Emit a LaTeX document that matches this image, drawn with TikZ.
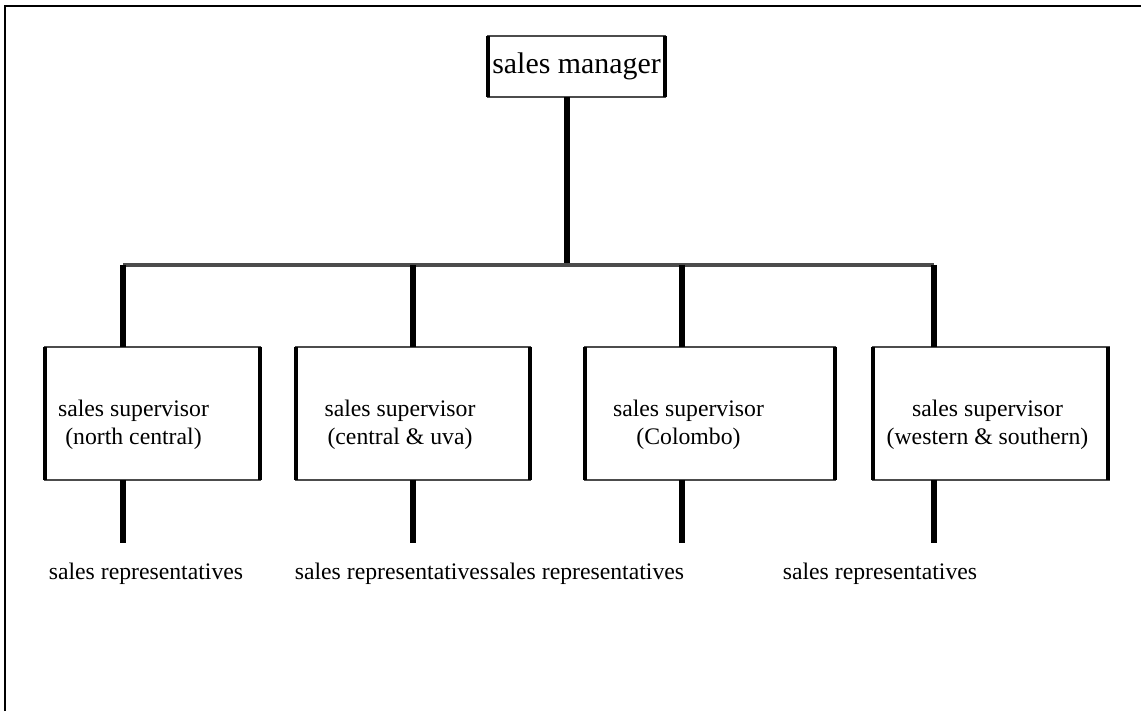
\documentclass[tikz,border=0pt]{standalone}
\usepackage{fontspec}
\setmainfont{Liberation Serif}
\tikzset{
    unitbox/.style={draw=black!70, line width=1.7pt, inner sep=0pt, outer sep=0pt},
    boxside/.style={line width=2.8pt, black},
    link/.style={line width=2.9pt, black},
    rail/.style={line width=2.2pt, black!70},
    smalltext/.style={font=\fontsize{13.5}{16}\selectfont, align=center},
}
\begin{document}
\begin{tikzpicture}
\useasboundingbox (0,0) rectangle (22.82,14.22);
\draw[line width=0.9pt] (0.1,0) -- (0.1,14.1) -- (22.82,14.1);

\node[unitbox, minimum width=3.54cm, minimum height=1.22cm, font=\fontsize{17}{20}\selectfont] (mgr) at (11.53,12.89) {sales manager};

\node[unitbox, minimum width=4.3cm, minimum height=2.66cm] (sup1) at (3.05,5.95) {};
\node[unitbox, minimum width=4.68cm, minimum height=2.66cm] (sup2) at (8.26,5.95) {};
\node[unitbox, minimum width=5cm, minimum height=2.66cm] (sup3) at (14.2,5.95) {};
\node[unitbox, minimum width=4.7cm, minimum height=2.66cm] (sup4) at (19.81,5.95) {};
\foreach \b in {mgr,sup1,sup2,sup3,sup4}
    \draw[boxside] (\b.north west) -- (\b.south west) (\b.north east) -- (\b.south east);

\node[smalltext] (sup1txt) at (2.67,5.72) {sales supervisor\\(north central)};
\node[smalltext] (sup2txt) at (8.0,5.72) {sales supervisor\\(central \& uva)};
\node[smalltext] (sup3txt) at (13.77,5.72) {sales supervisor\\(Colombo)};
\node[smalltext] (sup4txt) at (19.75,5.72) {sales supervisor\\(western \& southern)};

\node[smalltext, anchor=base] (rep1) at (2.92,2.64) {sales representatives};
\node[smalltext, anchor=base] (rep2) at (7.84,2.64) {sales representatives};
\node[smalltext, anchor=base] (rep3) at (11.74,2.64) {sales representatives};
\node[smalltext, anchor=base] (rep4) at (17.6,2.64) {sales representatives};

\coordinate (junc) at (11.34,8.92);
\coordinate (t1) at (2.46,8.92);
\coordinate (t2) at (8.26,8.92);
\coordinate (t3) at (13.64,8.92);
\coordinate (t4) at (18.68,8.92);

\draw[link] (junc |- mgr.south) -- (junc);
\draw[rail] (t1) -- (t4);
\foreach \i in {1,...,4}
{
    \draw[link] (t\i) -- (t\i |- sup\i.north);
    \draw[link, shorten >=0.26cm] (t\i |- sup\i.south) -- (t\i |- rep\i.north);
}
\end{tikzpicture}
\end{document}
